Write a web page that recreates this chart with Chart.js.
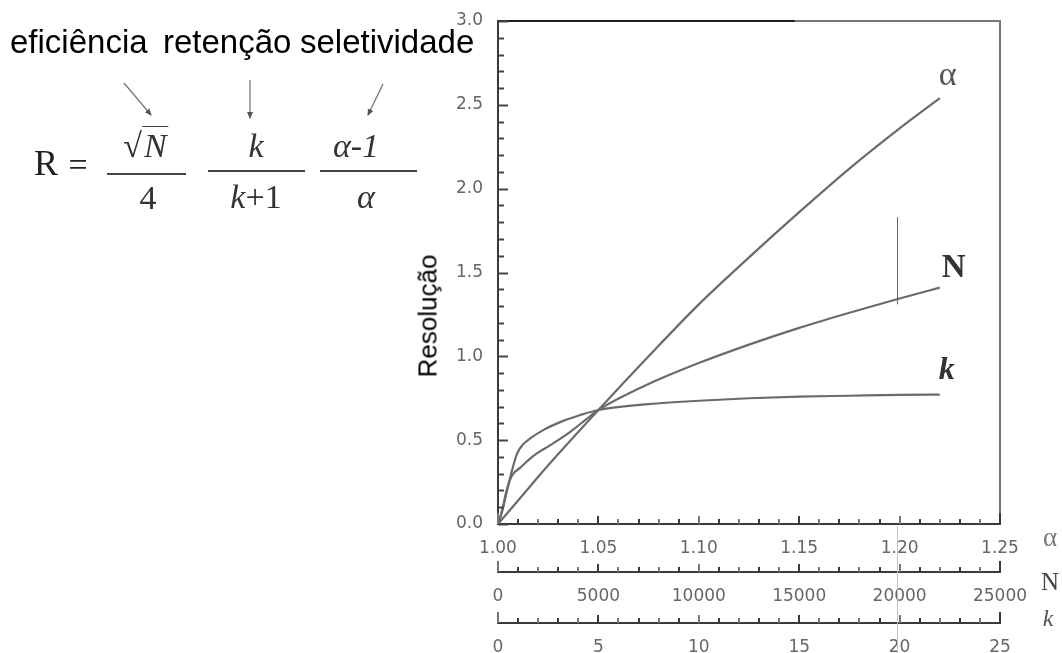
<!DOCTYPE html>
<html>
<head>
<meta charset="utf-8">
<script src="https://cdn.jsdelivr.net/npm/chart.js@4.4.0/dist/chart.umd.min.js"></script>
<style>
  html, body { margin: 0; padding: 0; background: #fff; }
  #wrap { position: relative; width: 1062px; height: 653px; overflow: hidden; }
  #chart { position: absolute; left: 0; top: 0; }
  .w { position: absolute; font-family: 'Liberation Sans', Arial, sans-serif; font-size: 33px; line-height: 1; color: #000; white-space: nowrap; }
  .m { position: absolute; font-family: 'Liberation Serif', 'Times New Roman', serif; font-size: 34px; line-height: 1; color: #333; white-space: nowrap; transform: translate(-50%, -50%); }
  .m i { font-style: italic; }
  .bar { position: absolute; height: 2px; background: #444; }
  .sq { border-top: 1.5px solid #444; font-style: italic; padding: 0 2px; }
  #ylab { position: absolute; left: 428px; top: 316px; transform: translate(-50%, -50%) rotate(-90deg); font-family: 'Liberation Sans', Arial, sans-serif; font-size: 26px; color: #000; white-space: nowrap; }
</style>
</head>
<body>
<div id="wrap">
  <canvas id="chart" width="1062" height="653"></canvas>

  <!-- termos da equação -->
  <div class="w" style="left:10px; top:25px;">eficiência</div>
  <div class="w" style="left:163px; top:25px;">retenção</div>
  <div class="w" style="left:300px; top:25px;">seletividade</div>

  <svg style="position:absolute; left:0; top:0;" width="480" height="140">
    <defs>
      <marker id="ah" markerWidth="8" markerHeight="8" refX="6" refY="4" orient="auto" markerUnits="userSpaceOnUse">
        <path d="M0,1 L7,4 L0,7 z" fill="#555"/>
      </marker>
    </defs>
    <line x1="124" y1="83" x2="151" y2="115" stroke="#777" stroke-width="1.3" marker-end="url(#ah)"/>
    <line x1="250" y1="80" x2="250" y2="118" stroke="#777" stroke-width="1.3" marker-end="url(#ah)"/>
    <line x1="383" y1="84" x2="368" y2="115" stroke="#777" stroke-width="1.3" marker-end="url(#ah)"/>
  </svg>

  <div class="m" style="left:46px; top:163px; font-size:36px; color:#222;">R</div>
  <div class="m" style="left:78px; top:165px; font-size:34px; color:#222;">=</div>
  <div class="bar" style="left:107px; top:173px; width:79px;"></div>
  <div class="m" style="left:146px; top:146px;">√<span class="sq">N</span></div>
  <div class="m" style="left:148px; top:198px;">4</div>
  <div class="bar" style="left:208px; top:170px; width:97px;"></div>
  <div class="m" style="left:256px; top:146px;"><i>k</i></div>
  <div class="m" style="left:256px; top:197px;"><i>k</i>+1</div>
  <div class="bar" style="left:320px; top:170px; width:97px;"></div>
  <div class="m" style="left:356px; top:146px;"><i>α</i>-<i>1</i></div>
  <div class="m" style="left:366px; top:197px;"><i>α</i></div>

  <div id="ylab">Resolução</div>
</div>

<script>
// seletividade: α -> resolução
const alphaX = [1.000, 1.010, 1.025, 1.050, 1.075, 1.100, 1.125, 1.150, 1.175, 1.200, 1.220];
const alphaR = [0.00, 0.14, 0.35, 0.68, 1.00, 1.31, 1.59, 1.86, 2.12, 2.36, 2.54];

// eficiência: N -> resolução
const nX = [0, 200, 450, 700, 1100, 1750, 2600, 3600, 4400, 5000, 7500, 10000, 12500, 15000, 17500, 20000, 22000];
const nR = [0.00, 0.08, 0.21, 0.29, 0.335, 0.405, 0.47, 0.55, 0.625, 0.68, 0.835, 0.96, 1.07, 1.17, 1.26, 1.345, 1.41];

// retenção: k -> resolução
const kX = [0, 0.2, 0.45, 0.7, 0.95, 1.25, 1.6, 2.25, 3.25, 4.1, 5, 7.5, 10, 12.5, 15, 17.5, 20, 22];
const kR = [0.00, 0.07, 0.20, 0.32, 0.42, 0.475, 0.51, 0.56, 0.615, 0.65, 0.68, 0.715, 0.735, 0.75, 0.76, 0.765, 0.77, 0.772];

// rótulos dos eixos
const yTicks = [0, 0.5, 1.0, 1.5, 2.0, 2.5, 3.0];
const alphaTicks = [1.00, 1.05, 1.10, 1.15, 1.20, 1.25];
const nTicks = [0, 5000, 10000, 15000, 20000, 25000];
const kTicks = [0, 5, 10, 15, 20, 25];
const curveNames = ['α', 'N', 'k'];

const toPts = (xs, ys) => xs.map((x, i) => ({ x: x, y: ys[i] }));

const lineColor = '#6b6b6b';
const tickFont = { family: 'DejaVu Sans', size: 17 };
const tickColor = '#666';

function xAxis(min, max, labels, fmt, weight, height, pad) {
    return {
        type: 'linear',
        position: 'bottom',
        weight: weight,
        min: min,
        max: max,
        afterBuildTicks: s => { s.ticks = labels.map(v => ({ value: v })); },
        afterFit: s => { s.height = height; },
        ticks: { autoSkip: false, maxRotation: 0, padding: pad, font: tickFont, color: tickColor, callback: fmt },
        grid: { drawOnChartArea: false, drawTicks: false },
        border: { color: '#3a3a3a', width: 2 }
    };
}

// marcas de escala (maiores e menores), moldura e rótulos das curvas
const decor = {
    id: 'decor',
    afterDraw(chart) {
        const ctx = chart.ctx;
        const a = chart.chartArea;
        const sc = chart.scales;
        ctx.save();
        ctx.lineCap = 'butt';

        // moldura superior e direita
        ctx.lineWidth = 2;
        ctx.strokeStyle = '#222';
        ctx.beginPath();
        ctx.moveTo(a.left, a.top);
        ctx.lineTo(sc.x.getPixelForValue(1.148), a.top);
        ctx.stroke();
        ctx.strokeStyle = '#777';
        ctx.beginPath();
        ctx.moveTo(sc.x.getPixelForValue(1.148), a.top);
        ctx.lineTo(a.right, a.top);
        ctx.lineTo(a.right, a.bottom);
        ctx.stroke();

        // marcas do eixo y (para dentro)
        ctx.strokeStyle = '#444';
        for (let i = 0; i <= 30; i++) {
            const py = Math.round(sc.y.getPixelForValue(i / 10)) + 0.5;
            const len = i % 5 === 0 ? 10 : 6;
            ctx.beginPath();
            ctx.moveTo(a.left, py);
            ctx.lineTo(a.left + len, py);
            ctx.stroke();
        }

        // marcas dos três eixos x (para cima)
        [['x', 1, 0.01], ['xN', 0, 1000], ['xk', 0, 1]].forEach(([id, start, step]) => {
            const s = sc[id];
            for (let i = 0; i <= 25; i++) {
                const px = Math.round(s.getPixelForValue(start + i * step));
                const end = i === 0 || i === 25;
                const len = end ? 11 : (i % 5 === 0 ? 8 : 5);
                ctx.strokeStyle = i % 2 ? '#3a3a3a' : '#777';
                ctx.beginPath();
                ctx.moveTo(px, s.top);
                ctx.lineTo(px, s.top - len);
                ctx.stroke();
            }
        });

        // risco vertical perto de α = 1.20
        const vx = Math.round(sc.x.getPixelForValue(1.1985)) + 0.5;
        ctx.lineWidth = 1;
        ctx.strokeStyle = '#666';
        ctx.beginPath();
        ctx.moveTo(vx, sc.y.getPixelForValue(1.83));
        ctx.lineTo(vx, sc.y.getPixelForValue(1.31));
        ctx.stroke();
        ctx.strokeStyle = '#c4c4c4';
        ctx.beginPath();
        ctx.moveTo(vx, a.bottom + 2);
        ctx.lineTo(vx, chart.height);
        ctx.stroke();

        // rótulos no fim de cada curva
        const styles = [
            { font: '34px "Liberation Serif"', color: '#555', dx: 8, dy: -22 },
            { font: 'bold 33px "Liberation Serif"', color: '#333', dx: 14, dy: -19 },
            { font: 'bold italic 32px "Liberation Serif"', color: '#333', dx: 7, dy: -24 }
        ];
        ctx.textAlign = 'center';
        ctx.textBaseline = 'middle';
        chart.data.datasets.forEach((ds, i) => {
            const pts = chart.getDatasetMeta(i).data;
            const last = pts[pts.length - 1];
            ctx.font = styles[i].font;
            ctx.fillStyle = styles[i].color;
            ctx.fillText(curveNames[i], last.x + styles[i].dx, last.y + styles[i].dy);
        });

        // nomes dos eixos à direita
        ctx.font = '27px "Liberation Serif"';
        ctx.fillStyle = '#777';
        ctx.fillText('α', a.right + 50, sc.x.top + 15);
        ctx.font = '25px "Liberation Serif"';
        ctx.fillStyle = '#444';
        ctx.fillText('N', a.right + 50, sc.xN.top + 11);
        ctx.font = 'italic 24px "Liberation Serif"';
        ctx.fillStyle = '#555';
        ctx.fillText('k', a.right + 48, sc.xk.top - 3);
        ctx.restore();
    }
};

const lineStyle = {
    borderColor: lineColor,
    borderWidth: 2.2,
    pointRadius: 0,
    fill: false,
    cubicInterpolationMode: 'monotone'
};

new Chart(document.getElementById('chart'), {
    type: 'line',
    data: {
        datasets: [
            Object.assign({ label: 'α', data: toPts(alphaX, alphaR), xAxisID: 'x' }, lineStyle),
            Object.assign({ label: 'N', data: toPts(nX, nR), xAxisID: 'xN' }, lineStyle),
            Object.assign({ label: 'k', data: toPts(kX, kR), xAxisID: 'xk' }, lineStyle)
        ]
    },
    options: {
        responsive: false,
        animation: false,
        layout: { padding: { left: 418, top: 21, right: 62, bottom: 0 } },
        plugins: { legend: { display: false }, tooltip: { enabled: false } },
        scales: {
            x: xAxis(1, 1.25, alphaTicks, v => v.toFixed(2), 0, 48, 14),
            xN: xAxis(0, 25000, nTicks, v => String(v), 1, 51, 14),
            xk: xAxis(0, 25, kTicks, v => String(v), 2, 30, 14),
            y: {
                type: 'linear',
                position: 'left',
                min: 0,
                max: 3,
                afterBuildTicks: s => { s.ticks = yTicks.map(v => ({ value: v })); },
                afterFit: s => { s.width = 80; s.paddingTop = 0; s.paddingBottom = 0; },
                ticks: { padding: 15, font: tickFont, color: tickColor, callback: v => v.toFixed(1) },
                grid: { drawOnChartArea: false, drawTicks: false },
                border: { color: '#3a3a3a', width: 2 }
            }
        }
    },
    plugins: [decor]
});
</script>
</body>
</html>
